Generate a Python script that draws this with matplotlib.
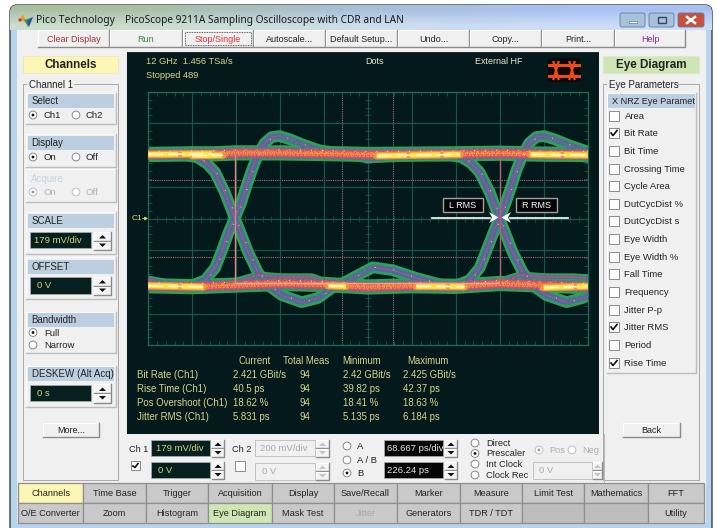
import numpy as np
import matplotlib
matplotlib.use('Agg')
import matplotlib.pyplot as plt
from matplotlib.patches import Rectangle, FancyBboxPatch, Circle, Polygon
from matplotlib.transforms import ScaledTranslation

plt.rcParams['font.family'] = ['Liberation Sans', 'DejaVu Sans']

# --- text of the window ---
toolbar_labels = ['Clear Display', 'Run', 'Stop/Single', 'Autoscale...', 'Default Setup...',
                  'Undo...', 'Copy...', 'Print...', 'Help']
toolbar_colors = ['#a03030', '#2f8a3a', '#e8303a', '#222222', '#222222',
                  '#222222', '#222222', '#222222', '#7a2a9a']
tab_row1 = ['Channels', 'Time Base', 'Trigger', 'Acquisition', 'Display', 'Save/Recall',
            'Marker', 'Measure', 'Limit Test', 'Mathematics', 'FFT']
tab_row2 = ['O/E Converter', 'Zoom', 'Histogram', 'Eye Diagram', 'Mask Test', 'Jitter',
            'Generators', 'TDR / TDT', '', '', 'Utility']
eye_params = ['Area', 'Bit Rate', 'Bit Time', 'Crossing Time', 'Cycle Area', 'DutCycDist %',
              'DutCycDist s', 'Eye Width', 'Eye Width %', 'Fall Time', 'Frequency',
              'Jitter P-p', 'Jitter RMS', 'Period', 'Rise Time']
eye_checked = ['Bit Rate', 'Jitter RMS', 'Rise Time']

# --- measurement table ---
meas_names = ['Bit Rate (Ch1)', 'Rise Time (Ch1)', 'Pos Overshoot (Ch1)', 'Jitter RMS (Ch1)']
meas_current = ['2.421 GBit/s', '40.5 ps', '18.62 %', '5.831 ps']
meas_total = ['94', '94', '94', '94']
meas_min = ['2.42 GBit/s', '39.82 ps', '18.41 %', '5.135 ps']
meas_max = ['2.425 GBit/s', '42.37 ps', '18.63 %', '6.184 ps']

# --- eye traces, in graticule divisions ---
top_x = [0, 0.5, 1, 1.5, 2, 3, 4, 5, 6, 7, 8, 9, 10]
top_y = [2.02, 2.03, 2.04, 2.04, 2.07, 2.07, 2.05, 2.02, 2.03, 2.04, 2.06, 2.03, 2.02]
bot_x = [0, 1, 2, 3, 4, 5, 6, 7, 8, 9, 10]
bot_y = [-2.12, -2.15, -2.1, -2.05, -2.08, -2.16, -2.12, -2.14, -2.05, -2.1, -2.15]

rise1_x = [0.61, 0.95, 1.29, 1.52, 1.68, 1.83, 1.97, 2.11, 2.24, 2.36, 2.49, 2.65, 2.81, 2.99, 3.22, 3.56, 3.9, 4.36]
rise1_y = [-2.16, -2.13, -1.95, -1.56, -1.0, -0.43, 0.01, 0.48, 1.05, 1.53, 2.0, 2.38, 2.57, 2.6, 2.5, 2.31, 2.15, 2.06]
fall1_x = [0.83, 1.11, 1.33, 1.52, 1.74, 1.97, 2.27, 2.49, 2.72, 3.04, 3.49, 3.86, 4.17, 4.47, 4.81, 5.11, 5.56, 6.11, 6.7, 7.31]
fall1_y = [2.0, 1.93, 1.74, 1.46, 0.83, 0.01, -1.06, -1.69, -2.1, -2.42, -2.64, -2.51, -2.2, -2.01, -1.76, -1.54, -1.63, -1.88, -2.1, -2.16]
rise2_x = [6.63, 6.97, 7.31, 7.54, 7.7, 7.86, 7.99, 8.13, 8.27, 8.38, 8.52, 8.67, 8.83, 9.01, 9.24, 9.58, 9.92, 10.03]
rise2_y = [-2.13, -2.13, -1.95, -1.56, -1.0, -0.43, 0.01, 0.48, 1.05, 1.53, 2.0, 2.38, 2.57, 2.6, 2.5, 2.31, 2.15, 2.1]
fall2_x = [6.86, 7.13, 7.35, 7.54, 7.77, 7.99, 8.29, 8.52, 8.74, 9.06, 9.52, 9.88, 10.03]
fall2_y = [2.0, 1.93, 1.74, 1.46, 0.83, 0.01, -1.06, -1.69, -2.1, -2.42, -2.64, -2.51, -2.42]

# secondary paths through the rails
tail_x = [0, 0.5, 1]
tail_y = [-1.92, -2.05, -2.12]
railup1_x = [1.97, 2.49, 3.04, 3.72, 4.24]
railup1_y = [-2.0, -1.79, -1.85, -1.85, -2.1]
railup2_x = [7.99, 8.45, 9.06, 9.65, 10.03]
railup2_y = [-2.0, -1.79, -1.85, -1.85, -1.88]
toplow_x = [4.6, 5.0, 5.6, 6.3, 7.0]
toplow_y = [1.95, 1.86, 1.9, 1.95, 2.0]
toplow2_x = [9.5, 9.8, 10.03]
toplow2_y = [2.0, 1.92, 1.87]

# hot segments of the rails (start, end in divisions, rail level)
hot_x = [[0, 1.5], [1.0, 1.7], [5.2, 7.1], [8.7, 10], [0, 1.25], [6.1, 7.2], [4.1, 4.5], [9.0, 10]]
hot_y = [[2.02, 2.04], [1.98, 2.0], [1.98, 2.02], [2.02, 2.0], [-2.12, -2.16], [-2.14, -2.15], [-2.12, -2.14], [-2.18, -2.14]]

# --- cursors, in divisions ---
dotted_v = [4.4, 5.57]
dotted_h = [1.2, -1.2]

W, H = 717, 528
fig = plt.figure(figsize=(W / 100, H / 100), dpi=100, facecolor='white')


def pixel_axes(z):
    a = fig.add_axes([0, 0, 1, 1], zorder=z)
    a.set_xlim(0, W)
    a.set_ylim(H, 0)
    a.axis('off')
    a.patch.set_alpha(0)
    return a


ui = pixel_axes(0)
over = pixel_axes(5)


def rect(x0, y0, x1, y1, fc, ec='none', lw=0.7, a=None, z=2):
    a = a or ui
    a.add_patch(Rectangle((x0, y0), x1 - x0, y1 - y0, fc=fc, ec=ec, lw=lw, zorder=z))


def label(x, y, s, size=6.5, color='#222222', ha='left', weight='normal', a=None):
    a = a or ui
    a.text(x, y, s, fontsize=size, color=color, ha=ha, va='center', weight=weight, zorder=6)


def raised(x0, y0, x1, y1, fc='#f0f0f0', z=3, a=None):
    a = a or ui
    rect(x0, y0, x1, y1, fc, a=a, z=z)
    a.plot([x0, x0, x1], [y1, y0, y0], color='white', lw=0.8, zorder=z)
    a.plot([x0, x1, x1], [y1, y1, y0], color='#8a8a8a', lw=1.0, zorder=z)


def button(x0, y0, x1, y1, s, color='#222222'):
    raised(x0, y0, x1, y1)
    label((x0 + x1) / 2, (y0 + y1) / 2 + 0.5, s, color=color, ha='center')


def panel(x0, y0, x1, y1):
    rect(x0, y0, x1, y1, '#f0f0f0', z=2)
    ui.plot([x0, x0, x1], [y1, y0, y0], color='#fbfbfb', lw=0.8, zorder=2)
    ui.plot([x0, x1, x1], [y1, y1, y0], color='#bcbcbc', lw=1.0, zorder=2)


def header(x0, y0, x1, y1, s, size=7.0):
    rect(x0, y0, x1, y1, '#bccfe0', z=3)
    label(x0 + 3.5, (y0 + y1) / 2 + 0.3, s, size=size)


def radio(x, y, on=False, enabled=True):
    ec = '#7a7a7a' if enabled else '#b5b5b5'
    ui.add_patch(Circle((x, y), 3.9, fc='white', ec=ec, lw=0.6, zorder=4))
    if on:
        ui.add_patch(Circle((x, y), 1.4, fc='#111111' if enabled else '#999999', ec='none', zorder=5))


def checkbox(x0, y0, on=False, size=10):
    rect(x0, y0, x0 + size, y0 + size, 'white', ec='#8a8a8a', z=4)
    if on:
        ui.plot([x0 + 2, x0 + 4, x0 + size - 2], [y0 + 5, y0 + size - 2.5, y0 + 2.5], color='#111111', lw=1.2, zorder=5)


def spinner(x0, y0, x1, y1, enabled=True):
    mid = (y0 + y1) / 2
    col = '#111111' if enabled else '#c4c4c4'
    raised(x0, y0, x1, mid - 0.5, fc='#f4f4f4')
    raised(x0, mid + 0.5, x1, y1, fc='#f4f4f4')
    xc = (x0 + x1) / 2
    ui.add_patch(Polygon([[xc - 3.5, mid - 2.5], [xc + 3.5, mid - 2.5], [xc, mid - 6]], fc=col, ec='none', zorder=5))
    ui.add_patch(Polygon([[xc - 3.5, mid + 2.5], [xc + 3.5, mid + 2.5], [xc, mid + 6]], fc=col, ec='none', zorder=5))


def field(x0, y0, x1, y1, s, fc='#06201f', color='#d6d67a', tx=6):
    rect(x0, y0, x1, y1, fc, ec='#b0b0b0', lw=0.5, z=4)
    t = ui.text(x0 + tx, (y0 + y1) / 2 + 0.3, s, fontsize=6.8, color=color, va='center', zorder=6)
    t.set_clip_path(Rectangle((x0, y0), x1 - x0, y1 - y0, transform=ui.transData))


def group_box(x0, y0, x1, y1, s):
    ui.plot([x0 + 3, x0, x0, x1, x1, x0 + 8 + len(s) * 4.8], [y0, y0, y1, y1, y0, y0], color='#a8a8a8', lw=0.7, zorder=2)
    label(x0 + 6, y0 + 0.5, s, size=7.0)


# --- window frame ---
win = FancyBboxPatch((10, 5), 702, 530, boxstyle='round,pad=0,rounding_size=7', fc='#b8d3ee', ec='#2a2a2a', lw=0.9, zorder=1)
ui.add_patch(win)
grad = np.array([[0.62, 0.85, 0.95], [0.75, 0.90, 0.97], [0.80, 0.92, 0.98]])
img = np.dstack([np.linspace(0.66, 0.80, 3)[:, None] * np.ones((3, 3)),
                 np.linspace(0.75, 0.87, 3)[:, None] * np.ones((3, 3)), grad])
titlebar = ui.imshow(img, extent=(10, 712, 30, 5), aspect='auto', zorder=1.5, interpolation='bilinear')
titlebar.set_clip_path(win)
ui.set_xlim(0, W)
ui.set_ylim(H, 0)
rect(17, 30, 706, 523, '#f0f0f0', z=1.6)

ui.text(36, 20, 'Pico Technology', fontsize=7.4, family='Noto Sans', color='#1a1a1a', va='center', zorder=6)
ui.text(125, 20, 'PicoScope 9211A Sampling Oscilloscope with CDR and LAN', fontsize=7.3, family='Noto Sans',
        color='#1a1a1a', va='center', zorder=6)

# small logo
ui.add_patch(Polygon([[19, 21], [23, 14], [26, 21]], fc='#e8a020', ec='none', zorder=5))
ui.add_patch(Polygon([[24, 20], [28, 27], [33, 17]], fc='#3f9a3f', ec='none', zorder=5))
ui.add_patch(Polygon([[27, 21], [29, 27], [33, 17]], fc='#3050b0', ec='none', zorder=5))
ui.add_patch(Circle((20, 20), 1.6, fc='#d03030', ec='none', zorder=5))

for (x0, x1, fc, mark) in [(620, 645, '#a9c2dc', 'min'), (649, 674, '#a9c2dc', 'max'), (678, 704, '#c8503f', 'x')]:
    ui.add_patch(FancyBboxPatch((x0, 13), x1 - x0, 14, boxstyle='round,pad=0,rounding_size=2', fc=fc, ec='#5f7b99', lw=0.6, zorder=4))
    xc = (x0 + x1) / 2
    if mark == 'min':
        rect(xc - 4, 20.5, xc + 4, 22.5, '#f4f8fc', ec='#44607c', lw=0.4, z=5)
    elif mark == 'max':
        rect(xc - 4, 17, xc + 4, 23, 'none', ec='#33485e', lw=1.0, z=5)
    else:
        ui.plot([xc - 4, xc + 4], [17, 23], color='white', lw=1.8, zorder=5)
        ui.plot([xc - 4, xc + 4], [23, 17], color='white', lw=1.8, zorder=5)

# --- toolbar ---
tool_edges = [38, 110, 183, 254, 326, 398, 470, 542, 615, 686]
for i, s in enumerate(toolbar_labels):
    button(tool_edges[i], 30, tool_edges[i + 1] - 1, 47, s, toolbar_colors[i])
rect(185, 32, 251, 45, 'none', ec='#333333', lw=0.6, z=5)
ui.patches[-1].set_linestyle((0, (1, 1)))

# --- channels column ---
rect(23, 56, 118, 73, '#fbf6b4', ec='#e0e0c0', lw=0.4)
label(70.5, 65, 'Channels', size=8.4, weight='bold', ha='center')
group_box(23, 84, 118, 480, 'Channel 1')

panel(26, 93, 116, 124)
header(28, 94, 114, 108, 'Select')
radio(33, 115, True)
label(44, 115.5, 'Ch1', size=6.8)
radio(76, 115)
label(86, 115.5, 'Ch2', size=6.8)

panel(26, 134, 116, 167)
header(28, 136, 114, 150, 'Display')
radio(33, 157, True)
label(44, 157.5, 'On', size=6.8)
radio(76, 157)
label(86, 157.5, 'Off', size=6.8)

panel(26, 169, 116, 202)
label(31, 179, 'Acquire', color='#c4d4e4', size=7.0)
radio(33, 192, True, False)
label(44, 192.5, 'On', color='#b0b0b0', size=6.8)
radio(76, 192, False, False)
label(85, 192.5, 'Off', color='#b0b0b0', size=6.8)

panel(26, 212, 116, 254)
header(28, 214, 114, 228, 'SCALE')
field(30, 232, 91, 248, '179 mV/div', tx=4)
spinner(94, 232, 111, 250)

panel(26, 257, 116, 299)
header(28, 260, 114, 274, 'OFFSET')
field(30, 277, 91, 294, '0 V', tx=7)
spinner(94, 277, 111, 295)

panel(26, 312, 116, 353)
header(28, 313, 114, 327, 'Bandwidth')
radio(33, 332.5, True)
label(44, 333, 'Full', size=6.8)
radio(33, 345)
label(44, 345.5, 'Narrow', size=6.8)

panel(26, 366, 116, 407)
header(28, 367, 114, 381, 'DESKEW (Alt Acq)')
field(30, 385, 91, 401, '0 s', tx=7)
spinner(94, 384, 111, 403)

button(43, 423, 99, 437, 'More...')

# --- eye parameters column ---
rect(603, 56, 699, 73, '#cde6b4', ec='#dfe8d0', lw=0.4)
label(651, 65, 'Eye Diagram', size=8.4, weight='bold', ha='center')
group_box(603, 84, 699, 480, 'Eye Parameters')
panel(607, 93, 696, 373)
header(608, 94, 695, 108, 'X NRZ Eye Paramet', size=6.6)
eye_y = [116, 133, 151, 169, 186, 204, 221, 239, 257, 274, 292, 310, 327, 345, 363]
for s, yy in zip(eye_params, eye_y):
    checkbox(609, yy - 5, s in eye_checked)
    label(624.5, yy + 0.3, s, size=6.8)
button(623, 423, 680, 437, 'Back')

# --- scope screen ---
rect(127, 52, 599, 434, '#04191c', z=2)
rect(127, 52, 599, 53, '#2a2a2a', z=2)
text_col = '#d6d68a'
label(146, 62, '12 GHz  1.456 TSa/s', color=text_col, size=6.7)
label(146, 75.5, 'Stopped 489', color=text_col, size=6.7)
label(365, 62, 'Dots', color='#e6e6d0', size=6.5)
label(475, 62, 'External HF', color='#e6e6d0', size=6.5)
label(132, 218.5, 'C1', color=text_col, size=6.0)
ui.annotate('', xy=(148, 218.5), xytext=(142.5, 218.5), zorder=6,
            arrowprops=dict(arrowstyle='-|>,head_width=0.1,head_length=0.18', color=text_col, lw=0.6, shrinkA=0, shrinkB=0))

# eye icon
rect(548, 58, 580, 82, '#0a0a0a', z=3)
for yy in [65, 76]:
    ui.plot([549, 579], [yy, yy], color='#f04a1a', lw=2.2, zorder=4)
for xx in [556, 572]:
    ui.plot([xx - 2.5, xx + 2.5], [62, 79], color='#f04a1a', lw=1.6, zorder=4)
    ui.plot([xx + 2.5, xx - 2.5], [62, 79], color='#f04a1a', lw=1.6, zorder=4)

# measurement table
label(255, 361, 'Current', color=text_col, ha='center', size=6.9)
label(306, 361, 'Total Meas', color=text_col, ha='center', size=6.9)
label(362, 361, 'Minimum', color=text_col, ha='center', size=6.9)
label(428, 361, 'Maximum', color=text_col, ha='center', size=6.9)
for i, yy in enumerate([375, 389, 403, 417]):
    label(137, yy, meas_names[i], color=text_col, size=6.9)
    label(233, yy, meas_current[i], color=text_col, size=6.9)
    label(299.5, yy, meas_total[i], color=text_col, size=6.9)
    label(343, yy, meas_min[i], color=text_col, size=6.9)
    label(403, yy, meas_max[i], color=text_col, size=6.9)

# --- bottom controls ---
label(129, 449, 'Ch 1', size=6.6)
field(151, 440, 210, 456, '179 mV/div', tx=5)
spinner(212, 440, 224, 457)
checkbox(131, 461, True, 9)
field(151, 462, 210, 478, '0 V', tx=7)
spinner(212, 462, 224, 479)
label(232, 449, 'Ch 2', size=6.6)
field(255, 440, 315, 456, '200 mV/div', fc='#f0f0f0', color='#a8a8a8', tx=5)
spinner(316, 440, 329, 457, False)
checkbox(235, 461, False, 10)
field(255, 463, 315, 480, '0 V', fc='#f0f0f0', color='#a8a8a8', tx=7)
spinner(316, 463, 329, 480, False)

radio(347, 446)
label(357, 446.5, 'A', size=6.8)
radio(347, 460)
label(357, 460.5, 'A / B', size=6.8)
radio(347, 473, True)
label(357, 474, 'B', size=6.8)
field(384, 440, 443, 456, '68.667 ps/div', fc='#050505', color='#e8e8e8', tx=3)
spinner(445, 440, 457, 457)
field(384, 462, 443, 478, '226.24 ps', fc='#050505', color='#e8e8e8', tx=3)
spinner(445, 462, 457, 479)

for yy, s, on in [(443, 'Direct', False), (453.5, 'Prescaler', True), (464, 'Int Clock', False), (475, 'Clock Rec', False)]:
    radio(475, yy, on)
    label(486, yy + 0.3, s, size=6.7)
radio(539, 450, True, False)
label(549, 450.5, 'Pos', color='#b0b0b0', size=6.7)
radio(572, 450, False, False)
label(582, 450.5, 'Neg', color='#b0b0b0', size=6.7)
field(533, 462, 592, 479, '0 V', fc='#f0f0f0', color='#a8a8a8', tx=6)
spinner(593, 462, 602, 479, False)
ui.plot([603.5, 603.5], [434, 482], color='#b8b8b8', lw=0.7, zorder=3)

# --- tabs at the bottom ---
tab_edges = [18, 83, 146, 208, 272, 334, 397, 460, 522, 584, 648, 704]
rect(18, 483, 704, 523, '#c8c8c8', z=2)
for i in range(11):
    x0, x1 = tab_edges[i], tab_edges[i + 1]
    c1 = '#fbf6b4' if tab_row1[i] == 'Channels' else '#c9c9c9'
    c2 = '#cde6b4' if tab_row2[i] == 'Eye Diagram' else ('#bdbdbd' if tab_row2[i] == '' else '#c9c9c9')
    rect(x0, 483, x1, 503, c1, ec='#8e8e8e', lw=0.9, z=3)
    rect(x0, 503, x1, 522.5, c2, ec='#8e8e8e', lw=0.9, z=3)
    label((x0 + x1) / 2, 493.5, tab_row1[i], ha='center', size=6.6)
    label((x0 + x1) / 2, 513, tab_row2[i], ha='center', size=6.6,
          color='#a8a8a8' if tab_row2[i] == 'Jitter' else '#222222')

# --- the eye itself ---
left, right, top, bottom = 148.3, 587.7, 91.7, 345.3
ax = fig.add_axes([left / W, 1 - bottom / H, (right - left) / W, (bottom - top) / H], zorder=2)
ax.set_xlim(0, 10)
ax.set_ylim(-4, 4)
ax.set_facecolor('none')
grid_col = '#1b5546'
for s in ax.spines.values():
    s.set_color('#1f6b55')
    s.set_linewidth(0.9)
ax.set_xticks(np.arange(0, 11))
ax.set_yticks(np.arange(-4, 5))
ax.grid(True, color=grid_col, lw=0.9, zorder=0)
ax.set_xticks(np.arange(0, 10.01, 0.2), minor=True)
ax.set_yticks(np.arange(-4, 4.01, 0.25), minor=True)
ax.tick_params(which='both', direction='in', length=0, labelbottom=False, labelleft=False)
ax.tick_params(which='minor', top=True, left=True, right=True, bottom=True, length=2.8, width=0.6, color=grid_col)
ax.plot(np.arange(0, 10.01, 0.2), np.zeros(51), ls='none', marker='|', ms=4, mew=0.6, color=grid_col, zorder=1)
ax.plot(np.full(33, 5.0), np.arange(-4, 4.01, 0.25), ls='none', marker='_', ms=4, mew=0.6, color=grid_col, zorder=1)

for xx in dotted_v:
    ax.axvline(xx, color='#a07c78', lw=0.8, ls=(0, (1, 1)), zorder=1.5)
for yy in dotted_h:
    ax.axhline(yy, color='#a07c78', lw=0.8, ls=(0, (1, 1)), zorder=1.5)

GREEN, BLUE, RED, ORANGE, YELLOW = '#2ea355', '#5a62ad', '#e34a5e', '#f5913a', '#fde34a'
dashes = [(1.0, 1.6), (2.2, 1.1), (0.8, 2.3, 1.5, 1.0), (1.2, 0.7), (3.1, 1.3), (0.9, 1.1, 2.3, 1.7), (1.7, 2.9)]


def layer(x, y, col, lw, z, ls='-', off=(0, 0)):
    trans = ax.transData + ScaledTranslation(off[0] / 100, off[1] / 100, fig.dpi_scale_trans)
    ax.plot(x, y, color=col, lw=lw, ls=ls, solid_capstyle='round', solid_joinstyle='round',
            dash_capstyle='butt', zorder=z, transform=trans)


def speckled(x, y, sign, half, core_col, z):
    # short dashed strands side by side, so the band looks like dots and not like stripes
    for k in range(-half, half + 1):
        n = abs(k)
        col = core_col if n == 0 else (BLUE if n < half else GREEN)
        dash = dashes[(k + half) % len(dashes)]
        layer(x, y, col, 0.85, z, ls=(0, dash), off=(k, sign * k))


rising = [(rise1_x, rise1_y), (rise2_x, rise2_y)]
falling = [(fall1_x, fall1_y), (fall2_x, fall2_y)]
side = [(tail_x, tail_y), (railup1_x, railup1_y), (railup2_x, railup2_y), (toplow_x, toplow_y), (toplow2_x, toplow2_y)]
rails = [(top_x, top_y), (bot_x, bot_y)]

for x, y in rising + falling:
    layer(x, y, GREEN, 8.4, 2)
for x, y in side:
    layer(x, y, GREEN, 5.5, 2)
for x, y in rails:
    layer(x, y, GREEN, 11, 2)

for x, y in rising + falling:
    layer(x, y, '#4a6d9c', 4.6, 3)
for x, y in rising:
    speckled(x, y, -1, 3, RED, 3.2)
for x, y in falling:
    speckled(x, y, 1, 3, RED, 3.2)
for x, y in side:
    layer(x, y, BLUE, 2.6, 3)
    layer(x, y, RED, 1.0, 3.4, ls=(0, (2.5, 0.7)))

# rails: blue edge, then red, orange and yellow towards the middle
for x, y in rails:
    layer(x, y, BLUE, 8.0, 4)
    for k, col in zip([-5, -4, 4, 5], [GREEN, RED, RED, GREEN]):
        layer(x, y, col, 0.85, 4.2, ls=(0, dashes[abs(k)]), off=(0, k))
    layer(x, y, RED, 5.6, 5)
    for k, col in zip([-3, -2, -1, 0, 1, 2, 3], ['#a85a9a', ORANGE, ORANGE, '#f0c040', ORANGE, ORANGE, '#a85a9a']):
        layer(x, y, col, 0.85, 5.2, ls=(0, dashes[k + 3]), off=(0, k))

for x, y in zip(hot_x, hot_y):
    layer(x, y, ORANGE, 5.4, 6)
    layer(x, y, YELLOW, 3.6, 6.2, ls=(0, (6, 0.7)))
    layer(x, y, '#fff8d0', 1.2, 6.4, ls=(0, (9, 3)))

# stray bright dots
for x, y in rising + falling:
    layer(x, y, '#f2e96a', 0.8, 8, ls=(0, (0.8, 16)), off=(1.5, 0))
for x, y in rails:
    layer(x, y, '#f7f09a', 0.8, 8, ls=(0.5, (0.8, 9)), off=(0, 3))

# --- cursors over the trace ---
over.plot([235, 235], [154, 282.5], color='#e8837b', lw=1.0, zorder=3)
over.plot([235, 500], [282.5, 282.5], color='#e4a88c', lw=1.0, zorder=3)
over.plot([500, 500], [154, 282.5], color='#b0636a', lw=1.0, zorder=3)

# --- L/R RMS callouts ---
for x0, x1, s in [(443, 483, 'L RMS'), (516, 557, 'R RMS')]:
    rect(x0, 198, x1, 212, '#050505', ec='#a0a0a0', lw=1.0, a=over, z=4)
    label((x0 + x1) / 2, 205.3, s, color='white', size=6.5, ha='center', a=over)
over.plot([432, 490], [217.5, 217.5], color='white', lw=1.2, zorder=4)
over.plot([510, 568], [217.5, 217.5], color='white', lw=1.2, zorder=4)
over.add_patch(Polygon([[489, 212], [498.5, 217.5], [489, 223], [492, 217.5]], fc='white', ec='none', zorder=5))
over.add_patch(Polygon([[511, 212], [501.5, 217.5], [511, 223], [508, 217.5]], fc='white', ec='none', zorder=5))

fig.savefig('out.png', dpi=100, facecolor='white')
